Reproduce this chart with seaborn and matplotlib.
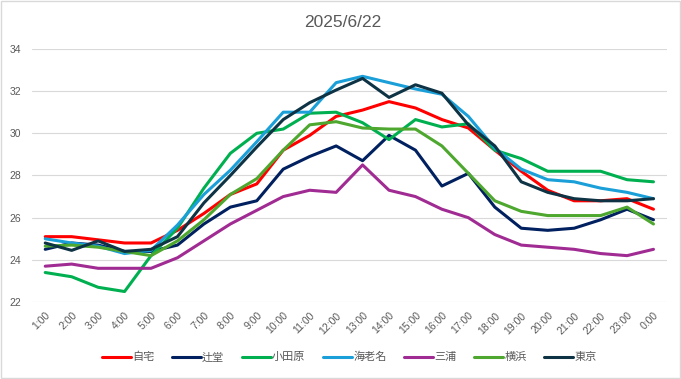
import matplotlib
matplotlib.use("Agg")
import matplotlib.pyplot as plt
import pandas as pd
import seaborn as sns
from matplotlib.patches import Rectangle

# hours and readings per place
hours = [f"{h}:00" for h in range(1, 24)] + ["0:00"]

jitaku = [25.1, 25.1, 24.95, 24.8, 24.8, 25.4, 26.2, 27.1, 27.6, 29.2, 29.9, 30.8,
          31.1, 31.5, 31.2, 30.65, 30.25, 29.2, 28.2, 27.3, 26.8, 26.8, 26.9, 26.4]
tsujido = [24.5, 24.8, 24.7, 24.4, 24.4, 24.7, 25.7, 26.5, 26.8, 28.3, 28.9, 29.4,
           28.7, 29.9, 29.2, 27.5, 28.1, 26.5, 25.5, 25.4, 25.5, 25.9, 26.4, 25.9]
odawara = [23.4, 23.2, 22.7, 22.5, 24.2, 25.5, 27.4, 29.05, 30.0, 30.2, 30.95, 31.0,
           30.5, 29.7, 30.65, 30.3, 30.45, 29.2, 28.8, 28.2, 28.2, 28.2, 27.8, 27.7]
ebina = [25.0, 24.8, 24.65, 24.3, 24.45, 25.65, 27.1, 28.25, 29.6, 31.0, 31.0, 32.4,
         32.7, 32.4, 32.1, 31.85, 30.8, 29.3, 28.3, 27.8, 27.7, 27.4, 27.2, 26.9]
miura = [23.7, 23.8, 23.6, 23.6, 23.6, 24.1, 24.9, 25.7, 26.35, 27.0, 27.3, 27.2,
         28.5, 27.3, 27.0, 26.4, 26.0, 25.2, 24.7, 24.6, 24.5, 24.3, 24.2, 24.5]
yokohama = [24.65, 24.7, 24.6, 24.4, 24.2, 24.9, 25.9, 27.1, 27.85, 29.2, 30.4, 30.55,
            30.25, 30.2, 30.2, 29.4, 28.1, 26.8, 26.3, 26.1, 26.1, 26.1, 26.5, 25.7]
tokyo = [24.8, 24.45, 24.9, 24.4, 24.5, 25.1, 26.7, 28.0, 29.35, 30.65, 31.45, 32.05,
         32.6, 31.7, 32.3, 31.9, 30.4, 29.4, 27.7, 27.2, 26.9, 26.8, 26.8, 26.9]

places = ["自宅", "辻堂", "小田原", "海老名", "三浦", "横浜", "東京"]
series = [jitaku, tsujido, odawara, ebina, miura, yokohama, tokyo]
colors = ["#FF0000", "#002060", "#00B050", "#1A9FD8", "#A02B93", "#4EA72E", "#0E3345"]

rows = []
for name, vals in zip(places, series):
    for i, v in enumerate(vals):
        rows.append({"hour": i, "place": name, "temp": v})
df = pd.DataFrame(rows)

sns.set_style("white")
plt.rcParams['font.family'] = ['Liberation Sans', 'Noto Sans CJK JP', 'DejaVu Sans']

fig = plt.figure(figsize=(6.81, 3.79), dpi=100)
ax = fig.add_axes([0.047, 0.203, 0.932, 0.668])

sns.lineplot(data=df, x="hour", y="temp", hue="place", hue_order=places,
             palette=colors, linewidth=2.2, ax=ax)

ax.set_xlim(-0.5, 23.5)
ax.set_ylim(22, 34)
ax.set_yticks([22, 24, 26, 28, 30, 32, 34])
ax.set_xticks(range(24))
ax.set_xticklabels(hours, rotation=45, ha="right", rotation_mode="anchor")
ax.tick_params(axis="both", colors="#595959", labelsize=7.5, length=0)
ax.tick_params(axis="x", pad=6)
ax.tick_params(axis="y", pad=8)
ax.grid(axis="y", color="#D9D9D9", linewidth=0.8)
ax.set_axisbelow(True)
for s in ax.spines.values():
    s.set_visible(False)
ax.set_xlabel("")
ax.set_ylabel("")

fig.suptitle("2025/6/22", x=0.503, y=0.96, fontsize=12.5, color="#595959")

leg = ax.legend(loc="center", bbox_to_anchor=(0.5, -0.218), ncol=7, frameon=False,
                prop={"family": ["Noto Sans CJK JP", "DejaVu Sans"], "size": 8},
                handlelength=2.6, handletextpad=0.1, columnspacing=1.6)
for t in leg.get_texts():
    t.set_color("#595959")
for h in leg.legend_handles:
    h.set_linewidth(2.2)

fig.patches.append(Rectangle((0.001, 0.002), 0.997, 0.995, transform=fig.transFigure,
                             fill=False, edgecolor="#D9D9D9", linewidth=1))

fig.savefig("out.png", dpi=100)
